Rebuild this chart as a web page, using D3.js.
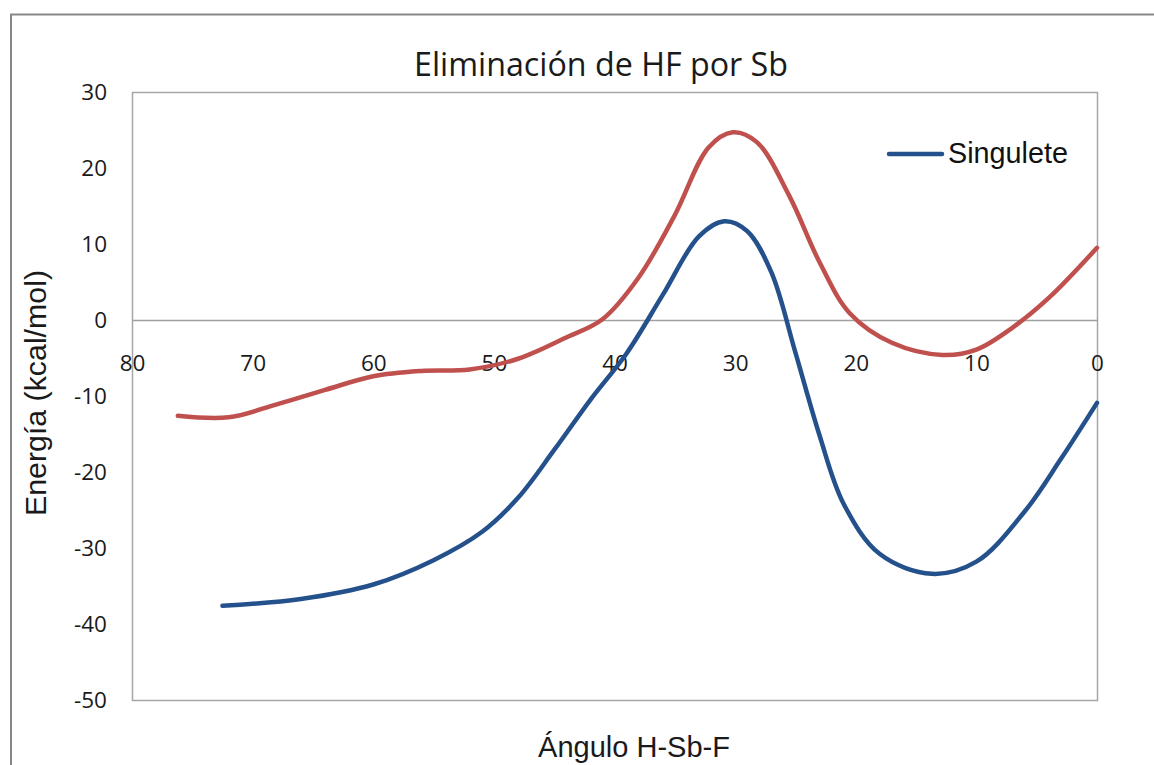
<!DOCTYPE html>
<html>
<head>
<meta charset="utf-8">
<script src="https://cdn.jsdelivr.net/npm/d3@7"></script>
<style>
  html, body { margin: 0; padding: 0; background: #fff; }
  svg { display: block; }
</style>
</head>
<body>
<svg id="chart" width="1154" height="765"></svg>
<script>
// ---- Data ----
const chartTitle = "Eliminación de HF por Sb";
const xTitle = "Ángulo H-Sb-F";
const yTitle = "Energía (kcal/mol)";
const legendLabel = "Singulete";

const xTicks = [80, 70, 60, 50, 40, 30, 20, 10, 0];
const yTicks = [30, 20, 10, 0, -10, -20, -30, -40, -50];

// Singulete (blue): angle, energy
const singuleteAngle = [72.5, 66, 60, 55, 51, 48, 45, 42, 39, 36, 33, 30.9, 29, 27, 25, 23, 21, 18, 13.7, 10, 6, 3, 0];
const singuleteEnergy = [-37.6, -36.7, -34.8, -31.6, -27.9, -23.4, -17.1, -10.5, -4.4, 3.3, 11.0, 13.0, 11.7, 6.3, -4.3, -15.2, -24.2, -30.8, -33.4, -31.8, -25.2, -18.3, -10.9];

// Second series (red, not in legend): angle, energy
const redAngle = [76.2, 72, 68, 64, 60, 56, 52, 48, 44, 41, 38, 35, 32.2, 30.2, 28.2, 25.5, 23, 20.5, 17, 12.8, 10, 7, 4, 0];
const redEnergy = [-12.6, -12.8, -11.1, -9.2, -7.4, -6.7, -6.5, -5.1, -2.3, 0.1, 5.6, 13.8, 22.7, 24.7, 23.4, 16.3, 7.6, 0.9, -3.0, -4.6, -3.9, -1.0, 2.9, 9.5];

// ---- Drawing ----
const svg = d3.select("#chart");
const plot = { left: 132, right: 1097, top: 92, bottom: 700 };

const x = d3.scaleLinear().domain([80, 0]).range([plot.left, plot.right]);
const y = d3.scaleLinear().domain([-50, 30]).range([plot.bottom, plot.top]);

const blueColor = "#24518b";
const redColor = "#c0504d";

function fitWidth(sel, target) {
  const w = sel.node().getComputedTextLength();
  const fs = parseFloat(sel.attr("font-size"));
  sel.attr("font-size", (fs * target / w).toFixed(2));
}

// outer chart frame (left and top edges visible)
svg.append("rect")
  .attr("x", 11).attr("y", 14.5)
  .attr("width", 1300).attr("height", 900)
  .attr("fill", "none")
  .attr("stroke", "#878787")
  .attr("stroke-width", 2);

// plot area border
svg.append("rect")
  .attr("x", plot.left + 0.5).attr("y", plot.top + 0.5)
  .attr("width", plot.right - plot.left).attr("height", plot.bottom - plot.top)
  .attr("fill", "none")
  .attr("stroke", "#a6a6a6")
  .attr("stroke-width", 1.5);

const fmt = d => String(d);

// Y axis labels
const yAxis = svg.append("g")
  .attr("transform", `translate(${plot.left},0)`)
  .call(d3.axisLeft(y).tickValues(yTicks).tickFormat(fmt).tickSize(0).tickPadding(25));
yAxis.select(".domain").remove();
yAxis.selectAll("text")
  .attr("font-family", "'Open Sans', sans-serif")
  .attr("font-size", 22.5)
  .attr("fill", "#1a1a1a");

// X axis at y = 0
const xAxis = svg.append("g")
  .attr("transform", `translate(0,${y(0)})`)
  .call(d3.axisBottom(x).tickValues(xTicks).tickFormat(fmt).tickSize(0).tickPadding(35));
xAxis.select(".domain")
  .attr("stroke", "#a0a0a0")
  .attr("stroke-width", 1.5);
xAxis.selectAll("text")
  .attr("font-family", "'Open Sans', sans-serif")
  .attr("font-size", 22.5)
  .attr("fill", "#1a1a1a");

// Lines
const line = d3.line()
  .x(d => x(d[0]))
  .y(d => y(d[1]))
  .curve(d3.curveCatmullRom.alpha(0.5));

const redData = redAngle.map((a, i) => [a, redEnergy[i]]);
const blueData = singuleteAngle.map((a, i) => [a, singuleteEnergy[i]]);

svg.append("path")
  .datum(redData)
  .attr("d", line)
  .attr("fill", "none")
  .attr("stroke", redColor)
  .attr("stroke-width", 4.5)
  .attr("stroke-linecap", "round")
  .attr("stroke-linejoin", "round");

svg.append("path")
  .datum(blueData)
  .attr("d", line)
  .attr("fill", "none")
  .attr("stroke", blueColor)
  .attr("stroke-width", 4.5)
  .attr("stroke-linecap", "round")
  .attr("stroke-linejoin", "round");

// Title
const t = svg.append("text")
  .attr("x", 601).attr("y", 76)
  .attr("text-anchor", "middle")
  .attr("font-family", "'Open Sans', sans-serif")
  .attr("font-size", 28)
  .attr("fill", "#1a1a1a")
  .text(chartTitle);
fitWidth(t, 374);

// X title
const xt = svg.append("text")
  .attr("x", 634).attr("y", 757)
  .attr("text-anchor", "middle")
  .attr("font-family", "'Liberation Sans', Arial, sans-serif")
  .attr("font-size", 25)
  .attr("fill", "#1a1a1a")
  .text(xTitle);
fitWidth(xt, 192);

// Y title
const yt = svg.append("text")
  .attr("transform", "translate(46,393) rotate(-90)")
  .attr("text-anchor", "middle")
  .attr("font-family", "'Liberation Sans', Arial, sans-serif")
  .attr("font-size", 24)
  .attr("fill", "#1a1a1a")
  .text(yTitle);
fitWidth(yt, 246);

// Legend
svg.append("line")
  .attr("x1", 889).attr("x2", 942)
  .attr("y1", 154).attr("y2", 154)
  .attr("stroke", blueColor)
  .attr("stroke-width", 4.5)
  .attr("stroke-linecap", "round");
const lg = svg.append("text")
  .attr("x", 948).attr("y", 163)
  .attr("font-family", "'Liberation Sans', Arial, sans-serif")
  .attr("font-size", 23)
  .attr("fill", "#111")
  .text(legendLabel);
fitWidth(lg, 120);
</script>
</body>
</html>
